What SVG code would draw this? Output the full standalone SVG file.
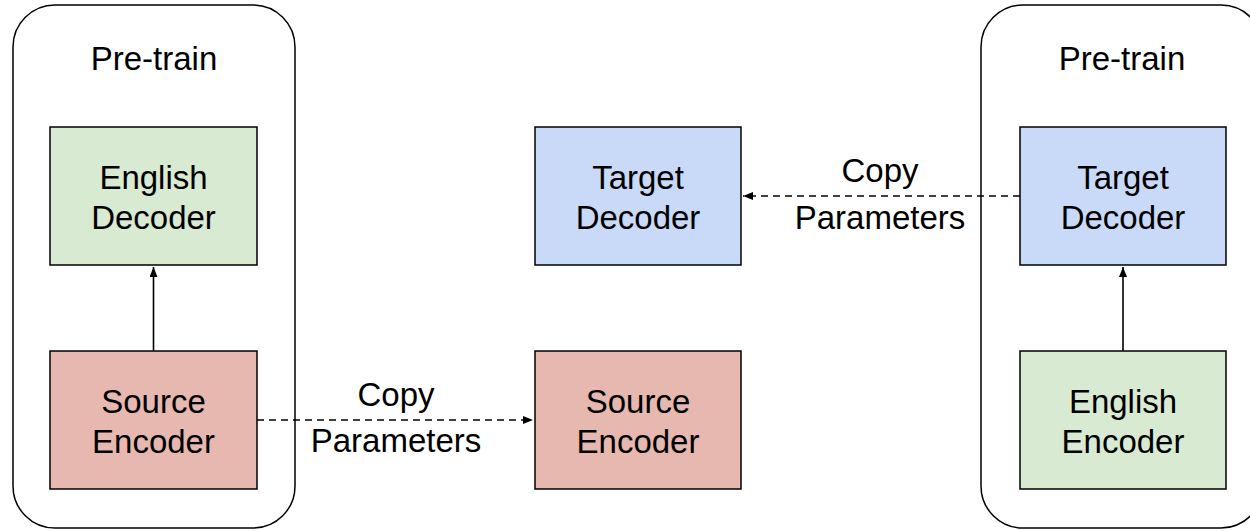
<svg xmlns="http://www.w3.org/2000/svg" width="1250" height="531" viewBox="0 0 1250 531">
<style>
text{font-family:"Liberation Sans",Arial,sans-serif;font-size:33px;fill:#000;text-anchor:middle}
.cont{fill:#fff;stroke:#000;stroke-width:1.5}
.box{stroke:#000;stroke-width:1.5}
.green{fill:#d9ead3}.red{fill:#e6b8af}.blue{fill:#c9daf8}
.solid{stroke:#000;stroke-width:1.6;fill:none}
.dash{stroke:#000;stroke-width:1.6;fill:none;stroke-dasharray:7,5}
</style>
<defs>
<marker id="ah" viewBox="0 0 10 8" refX="10" refY="4" markerWidth="10" markerHeight="8" markerUnits="userSpaceOnUse" orient="auto">
<path d="M0,0 L10,4 L0,8 z" fill="#000"/>
</marker>
</defs>
<rect width="1250" height="531" fill="#fff"/>
<g id="pretrain-left">
<rect class="cont" x="13" y="5" width="282" height="523" rx="42" ry="42"/>
<text x="154" y="70">Pre-train</text>
</g>
<g id="pretrain-right">
<rect class="cont" x="981" y="5" width="282" height="523" rx="42" ry="42"/>
<text x="1122" y="70">Pre-train</text>
</g>
<g id="english-decoder">
<rect class="box green" x="50" y="127" width="207" height="138"/>
<text x="153.5" y="189">English</text>
<text x="153.5" y="229">Decoder</text>
</g>
<g id="source-encoder-left">
<rect class="box red" x="50" y="351" width="207" height="138"/>
<text x="153.5" y="413">Source</text>
<text x="153.5" y="453">Encoder</text>
</g>
<g id="target-decoder-mid">
<rect class="box blue" x="535" y="127" width="206" height="138"/>
<text x="638" y="189">Target</text>
<text x="638" y="229">Decoder</text>
</g>
<g id="source-encoder-mid">
<rect class="box red" x="535" y="351" width="206" height="138"/>
<text x="638" y="413">Source</text>
<text x="638" y="453">Encoder</text>
</g>
<g id="target-decoder-right">
<rect class="box blue" x="1020" y="127" width="206" height="138"/>
<text x="1123" y="189">Target</text>
<text x="1123" y="229">Decoder</text>
</g>
<g id="english-encoder">
<rect class="box green" x="1020" y="351" width="206" height="138"/>
<text x="1123" y="413">English</text>
<text x="1123" y="453">Encoder</text>
</g>
<g id="connectors">
<line class="solid" x1="153.5" y1="351" x2="153.5" y2="267" marker-end="url(#ah)"/>
<line class="solid" x1="1123" y1="351" x2="1123" y2="267" marker-end="url(#ah)"/>
<line class="dash" x1="257" y1="420" x2="533" y2="420" marker-end="url(#ah)"/>
<line class="dash" x1="1020" y1="196" x2="743" y2="196" marker-end="url(#ah)"/>
<text x="396" y="406">Copy</text>
<text x="396" y="452">Parameters</text>
<text x="880" y="182">Copy</text>
<text x="880" y="229">Parameters</text>
</g>
</svg>
